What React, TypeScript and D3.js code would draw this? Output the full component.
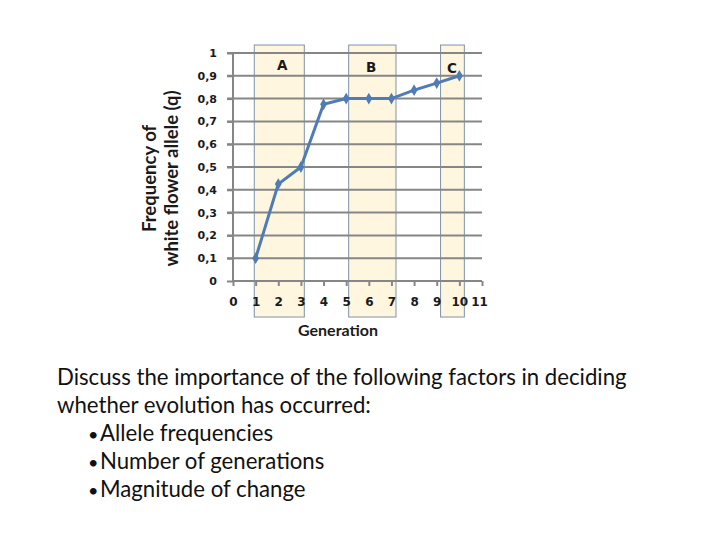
import { useEffect, useRef } from "react";
import * as d3 from "d3";

// Frequency of the white flower allele (q) over generations 1..10
const generations = [1, 2, 3, 4, 5, 6, 7, 8, 9, 10];
const freqQ = [0.1, 0.425, 0.5, 0.775, 0.8, 0.8, 0.8, 0.837, 0.868, 0.9];

const yTicks = [0, 0.1, 0.2, 0.3, 0.4, 0.5, 0.6, 0.7, 0.8, 0.9, 1];
const xTicks = [0, 1, 2, 3, 4, 5, 6, 7, 8, 9, 10, 11];

// highlighted windows (generation units)
const bandLabels = ["A", "B", "C"];
const bandStarts = [0.94, 5.11, 9.17];
const bandEnds = [3.15, 7.2, 10.22];
const bandLabelAt = [2.18, 6.1, 9.67];
const bandLabelY = [0.925, 0.918, 0.912];

const promptLines = [
  "Discuss the importance of the following factors in deciding",
  "whether evolution has occurred:",
];
const bullets = ["Allele frequencies", "Number of generations", "Magnitude of change"];

const GRID = "#868686";
const LINE = "#4f7cb4";
const BAND_FILL = "#fef6df";
const BAND_STROKE = "#7d93a8";
const TICK_FONT = "'DejaVu Sans', Verdana, sans-serif";
const BODY_FONT = "Lato, 'Open Sans', sans-serif";

export default function App() {
  const ref = useRef<SVGSVGElement | null>(null);

  useEffect(() => {
    const svg = d3.select(ref.current);
    svg.selectAll("*").remove();

    const x = d3.scaleLinear().domain([0, 11]).range([233, 482]);
    const y = d3.scaleLinear().domain([0, 1]).range([281, 53]);

    // bands behind everything
    const bands = svg.append("g");
    bandLabels.forEach((_, i) => {
      bands
        .append("rect")
        .attr("x", x(bandStarts[i]))
        .attr("width", x(bandEnds[i]) - x(bandStarts[i]))
        .attr("y", y(1.035))
        .attr("height", y(-0.158) - y(1.035))
        .attr("fill", BAND_FILL)
        .attr("stroke", BAND_STROKE)
        .attr("stroke-width", 1);
    });

    // gridlines
    svg
      .append("g")
      .selectAll("line")
      .data(yTicks.slice(1))
      .join("line")
      .attr("x1", x(0) - 6)
      .attr("x2", x(11))
      .attr("y1", (d) => y(d))
      .attr("y2", (d) => y(d))
      .attr("stroke", GRID)
      .attr("stroke-width", 2);

    // y axis
    const yAxis = svg
      .append("g")
      .attr("transform", `translate(${x(0)},0)`)
      .call(
        d3
          .axisLeft(y)
          .tickValues(yTicks)
          .tickSize(6)
          .tickPadding(10)
          .tickFormat((v) => d3.format(".1~f")(v as number).replace(".", ","))
      );
    yAxis.select(".domain").attr("stroke", GRID).attr("stroke-width", 2).attr("d", `M0,${y(0)}V${y(1)}`);
    yAxis.selectAll(".tick line").attr("stroke", GRID).attr("stroke-width", 2);
    yAxis
      .selectAll(".tick text")
      .attr("font-family", TICK_FONT)
      .attr("font-weight", "bold")
      .attr("font-size", 11)
      .attr("fill", "#1a1a1a");

    // x axis
    const xAxis = svg
      .append("g")
      .attr("transform", `translate(0,${y(0)})`)
      .call(d3.axisBottom(x).tickValues(xTicks).tickSize(5).tickPadding(11).tickFormat(d3.format("d")));
    xAxis.select(".domain").attr("stroke", GRID).attr("stroke-width", 2).attr("d", `M${x(0)},0H${x(11)}`);
    xAxis.selectAll(".tick line").attr("stroke", GRID).attr("stroke-width", 2);
    xAxis
      .selectAll(".tick text")
      .attr("font-family", TICK_FONT)
      .attr("font-weight", "bold")
      .attr("font-size", 12)
      .attr("fill", "#1a1a1a")
      .attr("dx", (d) => ((d as number) === 11 ? -3 : 0));

    // band letters
    bandLabels.forEach((lab, i) => {
      svg
        .append("text")
        .attr("x", x(bandLabelAt[i]))
        .attr("y", y(bandLabelY[i]))
        .attr("text-anchor", "middle")
        .attr("font-family", TICK_FONT)
        .attr("font-weight", "bold")
        .attr("font-size", 13.5)
        .attr("fill", "#1a1a1a")
        .text(lab);
    });

    // series line + diamond markers
    const pts = generations.map((g, i) => [g, freqQ[i]] as [number, number]);
    svg
      .append("path")
      .datum(pts)
      .attr("d", d3.line().x((d) => x(d[0])).y((d) => y(d[1])))
      .attr("fill", "none")
      .attr("stroke", LINE)
      .attr("stroke-width", 3);
    svg
      .append("g")
      .selectAll("path")
      .data(pts)
      .join("path")
      .attr("transform", (d) => `translate(${x(d[0])},${y(d[1])})`)
      .attr("d", d3.symbol(d3.symbolDiamond, 40)())
      .attr("fill", LINE);

    // axis titles
    svg
      .append("text")
      .attr("x", x(4.64))
      .attr("y", 336)
      .attr("text-anchor", "middle")
      .attr("font-family", BODY_FONT)
      .attr("font-weight", "bold")
      .attr("font-size", 16)
      .attr("fill", "#1a1a1a")
      .text("Generation");
    const yt = svg
      .append("text")
      .attr("transform", `translate(0,${y(0.45)}) rotate(-90)`)
      .attr("text-anchor", "middle")
      .attr("font-family", BODY_FONT)
      .attr("font-weight", "bold")
      .attr("font-size", 18.5)
      .attr("fill", "#1a1a1a");
    yt.append("tspan").attr("x", 0).attr("y", 156).text("Frequency of");
    yt.append("tspan").attr("x", 0).attr("y", 178).text("white flower allele (q)");

    // prompt text
    const body = svg.append("g").attr("font-family", BODY_FONT).attr("font-size", 22.2).attr("fill", "#111");
    promptLines.forEach((t, i) => {
      body.append("text").attr("x", 57).attr("y", 385 + i * 28).text(t);
    });
    bullets.forEach((t, i) => {
      body.append("text").attr("x", 88).attr("y", 441 + i * 28).attr("font-size", 18).text("\u2022");
      body.append("text").attr("x", 100).attr("y", 441 + i * 28).text(t);
    });
  }, []);

  return (
    <svg
      ref={ref}
      width={720}
      height={540}
      style={{ position: "absolute", left: 0, top: 0, background: "#fff" }}
    />
  );
}
